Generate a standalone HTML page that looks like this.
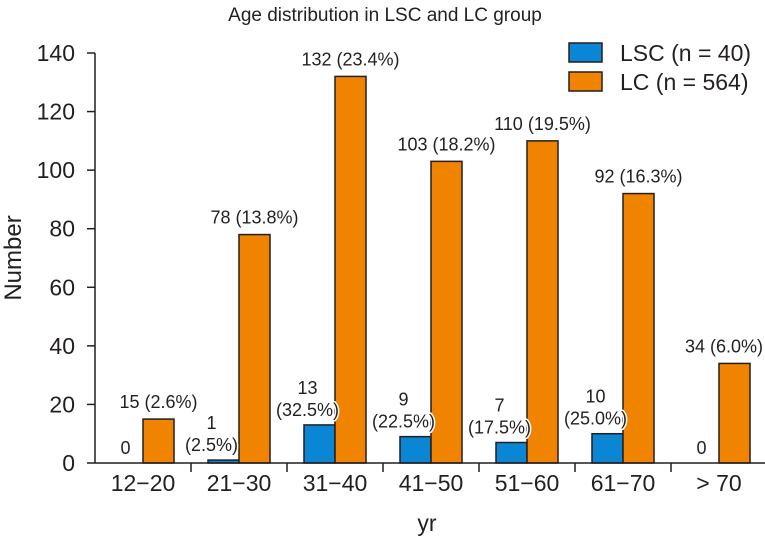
<!DOCTYPE html>
<html><head><meta charset="utf-8"><style>
body{margin:0;background:#fff}
svg{display:block;font-family:"Liberation Sans",Arial,sans-serif}
</style></head><body>
<svg id="chart" width="765" height="546">
<text x="385" y="21" font-size="19" text-anchor="middle" fill="#231f20">Age distribution in LSC and LC group</text>
<text transform="translate(21,258) rotate(-90)" font-size="24" text-anchor="middle" fill="#231f20">Number</text>
<text x="427" y="531" font-size="23" text-anchor="middle" fill="#231f20">yr</text>
<g>
<rect x="569" y="43" width="33" height="19" fill="#0a86d4" stroke="#231f20" stroke-width="1.5"/>
<text x="620" y="61" font-size="23" fill="#231f20">LSC (n = 40)</text>
<rect x="569" y="72" width="33" height="19" fill="#f08300" stroke="#231f20" stroke-width="1.5"/>
<text x="620" y="90" font-size="23" fill="#231f20">LC (n = 564)</text>
</g>
<g id="plot"></g>
</svg>
<script>
const categories=["12\u221220","21\u221230","31\u221240","41\u221250","51\u221260","61\u221270","> 70"];
const lscValues=[0,1,13,9,7,10,0];
const lscPct=["","(2.5%)","(32.5%)","(22.5%)","(17.5%)","(25.0%)",""];
const lcValues=[15,78,132,103,110,92,34];
const lcPct=["(2.6%)","(13.8%)","(23.4%)","(18.2%)","(19.5%)","(16.3%)","(6.0%)"];
const yTicks=[0,20,40,60,80,100,120,140];
const X0=95,CW=96,Y0=463,YT=53,YMAX=140,BW=31;
const ns="http://www.w3.org/2000/svg";
const plot=document.getElementById('plot');
function y(v){return Y0-(Y0-YT)*v/YMAX;}
function cx(i){return X0+CW*i+CW/2;}
function mk(tag,attrs,txt){const e=document.createElementNS(ns,tag);for(const k in attrs)e.setAttribute(k,attrs[k]);if(txt!==undefined)e.textContent=txt;plot.appendChild(e);return e;}
categories.forEach((c,i)=>{
  const b1=mk('rect',{x:cx(i)-BW,y:y(lscValues[i]),width:BW,height:Y0-y(lscValues[i]),fill:'#0a86d4',stroke:'#231f20','stroke-width':1.5});
  
  
  if(lscValues[i]===0) b1.setAttribute('stroke','none');
  const b2=mk('rect',{x:cx(i),y:y(lcValues[i]),width:BW,height:Y0-y(lcValues[i]),fill:'#f08300',stroke:'#231f20','stroke-width':1.5});
  
  
});
const ya=mk('line',{x1:X0,y1:YT,x2:X0,y2:Y0,stroke:'#231f20','stroke-width':1.5});


const xa=mk('line',{x1:X0,y1:Y0,x2:X0+CW*7,y2:Y0,stroke:'#231f20','stroke-width':1.5});


yTicks.forEach(t=>{
  mk('line',{x1:X0-8,y1:y(t),x2:X0,y2:y(t),stroke:'#231f20','stroke-width':1.5});
  const l=mk('text',{x:X0-20,y:y(t)+8,'font-size':23,'text-anchor':'end',fill:'#231f20'},String(t));
  
  
});
categories.forEach((c,i)=>{
  mk('line',{x1:X0+CW*(i+1),y1:Y0,x2:X0+CW*(i+1),y2:Y0+9,stroke:'#231f20','stroke-width':1.5});
  const l=mk('text',{x:cx(i),y:Y0+28,'font-size':23,'text-anchor':'middle',fill:'#231f20'},c);
  
  
  const t=mk('text',{x:cx(i)+BW/2,y:y(lcValues[i])-11,'font-size':18,'text-anchor':'middle',fill:'#231f20'},lcValues[i]+' '+lcPct[i]);
  
  
  const w=t.getComputedTextLength();
  if(cx(i)+BW/2+w/2>763){t.setAttribute('text-anchor','end');t.setAttribute('x',763);}
  const by=y(lscValues[i])-9;
  const style={'font-size':18,'text-anchor':'middle',fill:'#231f20',stroke:'#fff','stroke-width':3,'paint-order':'stroke'};
  if(lscPct[i]){
    const bx=cx(i)-BW/2-12;
    const a=mk('text',Object.assign({x:bx,y:by-22},style),String(lscValues[i]));
    
    
    const b=mk('text',Object.assign({x:bx,y:by},style),lscPct[i]);
    
    
  } else {
    const a=mk('text',Object.assign({x:cx(i)-BW/2-2,y:by},style),String(lscValues[i]));
    
    
  }
});
</script>
</body></html>
